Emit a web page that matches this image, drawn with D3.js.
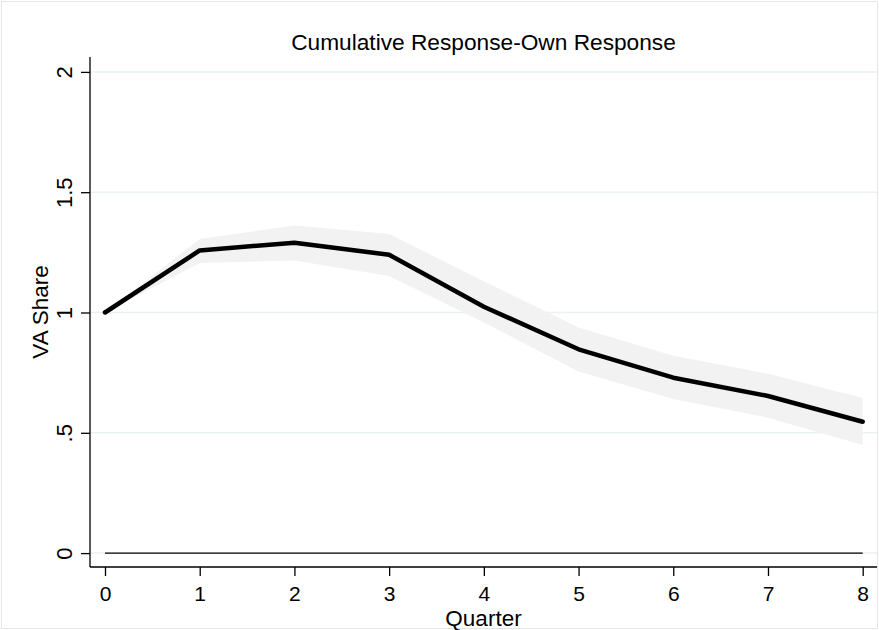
<!DOCTYPE html>
<html><head><meta charset="utf-8">
<script src="https://cdn.jsdelivr.net/npm/d3@7"></script>
<style>body{margin:0;background:#fff}svg{display:block}text{font-family:Arial,"Liberation Sans",sans-serif;fill:#000}</style>
</head><body>
<svg id="c" width="879" height="630"></svg>
<script>
const quarters = [0,1,2,3,4,5,6,7,8];
const response = [1.0, 1.258, 1.290, 1.240, 1.024, 0.847, 0.729, 0.653, 0.546];
const upper    = [1.0, 1.305, 1.362, 1.326, 1.130, 0.938, 0.820, 0.745, 0.645];
const lower    = [1.0, 1.206, 1.216, 1.152, 0.958, 0.755, 0.640, 0.563, 0.449];
const yTicks = [0, 0.5, 1, 1.5, 2];
const yTickLabels = ["0", ".5", "1", "1.5", "2"];
const xTicks = [0,1,2,3,4,5,6,7,8];

(function(){
const svg = d3.select("#c");
const x = d3.scaleLinear().domain([0,8]).range([105, 862.7]);
const y = d3.scaleLinear().domain([0,2]).range([553.1, 71.9]);
const pLeft = 90, pRight = 877, pBottom = 567, pTop = 57;

svg.append("rect").attr("x",1.5).attr("y",1.5).attr("width",876).attr("height",627)
  .attr("fill","none").attr("stroke","#e6e6e6").attr("stroke-width",1);

// gridlines
svg.append("g").selectAll("line").data(yTicks).join("line")
  .attr("x1",pLeft).attr("x2",pRight).attr("y1",d=>y(d)).attr("y2",d=>y(d))
  .attr("stroke","#eaf2f3").attr("stroke-width",1.5);

// band
const data = quarters.map((q,i)=>({q, r:response[i], u:upper[i], l:lower[i]}));
svg.append("path").datum(data)
  .attr("d", d3.area().x(d=>x(d.q)).y0(d=>y(d.l)).y1(d=>y(d.u)))
  .attr("fill","#f2f2f2");

// zero line
svg.append("line").attr("x1",x(0)).attr("x2",x(8)).attr("y1",y(0)).attr("y2",y(0))
  .attr("stroke","#000").attr("stroke-width",1.4);

// response line
svg.append("path").datum(data)
  .attr("d", d3.line().x(d=>x(d.q)).y(d=>y(d.r)))
  .attr("fill","none").attr("stroke","#000").attr("stroke-width",4.5)
  .attr("stroke-linejoin","round").attr("stroke-linecap","round");

// axes
const yAxis = d3.axisLeft(y).tickValues(yTicks).tickSize(9).tickFormat((d,i)=>yTickLabels[i]);
const gy = svg.append("g").attr("transform",`translate(${pLeft},0)`).call(yAxis);
gy.select(".domain").remove();
gy.selectAll(".tick line").attr("stroke","#000").attr("stroke-width",1.3);
gy.selectAll(".tick text").attr("font-size",22).attr("x",0).attr("dy",0)
  .attr("text-anchor","middle")
  .attr("transform","translate(-18,0) rotate(-90)");
svg.append("line").attr("x1",pLeft).attr("x2",pLeft).attr("y1",pTop).attr("y2",pBottom)
  .attr("stroke","#000").attr("stroke-width",1.3);

const xAxis = d3.axisBottom(x).tickValues(xTicks).tickSize(9).tickFormat(d3.format("d"));
const gx = svg.append("g").attr("transform",`translate(0,${pBottom})`).call(xAxis);
gx.select(".domain").remove();
gx.selectAll(".tick line").attr("stroke","#000").attr("stroke-width",1.3);
gx.selectAll(".tick text").attr("font-size",21).attr("y",33.5).attr("dy",0);
svg.append("line").attr("x1",pLeft).attr("x2",pRight).attr("y1",pBottom).attr("y2",pBottom)
  .attr("stroke","#000").attr("stroke-width",1.3);

// titles
svg.append("text").attr("x",483.5).attr("y",50).attr("text-anchor","middle")
  .attr("font-size",22.7).text("Cumulative Response-Own Response");
svg.append("text").attr("x",483.5).attr("y",625.5).attr("text-anchor","middle")
  .attr("font-size",22.5).text("Quarter");
svg.append("text").attr("transform","translate(48,312) rotate(-90)").attr("text-anchor","middle")
  .attr("font-size",22.5).text("VA Share");
})();
</script>
</body></html>
